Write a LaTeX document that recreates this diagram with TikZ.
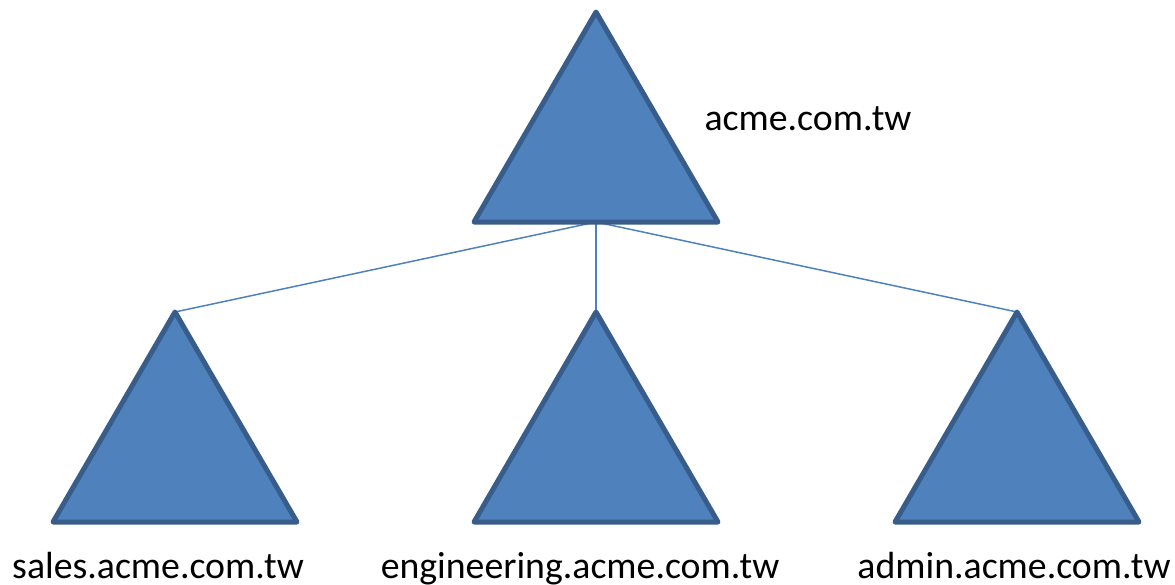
\documentclass[tikz,border=0pt]{standalone}
\usepackage{fontspec}
\setmainfont{Carlito}
\definecolor{triFill}{HTML}{4F81BD}
\definecolor{triLine}{HTML}{385D8A}
\begin{document}
\begin{tikzpicture}[x=1pt,y=-1pt,
  tri/.style={fill=triFill,draw=triLine,line width=5pt,line join=round},
  link/.style={draw=triFill,line width=1.5pt},
  lbl/.style={font=\fontsize{37.8}{38}\selectfont,inner sep=0pt,anchor=base}]
\useasboundingbox (0,0) rectangle (1175,584);
% coordinates
\coordinate (topA) at (596,12);
\coordinate (topB) at (596,222);
\coordinate (sA) at (175,312);
\coordinate (eA) at (596,312);
\coordinate (aA) at (1017,312);
% connectors
\draw[link] (topB) -- (sA);
\draw[link] (topB) -- (eA);
\draw[link] (topB) -- (aA);
% triangles
\draw[tri] (topA) -- (474,222) -- (718,222) -- cycle;
\draw[tri] (sA) -- (53,522) -- (297,522) -- cycle;
\draw[tri] (eA) -- (474,522) -- (718,522) -- cycle;
\draw[tri] (aA) -- (895,522) -- (1139,522) -- cycle;
% labels
\node[lbl] (lt) at (808,130) {acme.com.tw};
\node[lbl] (ls) at (158,578) {sales.acme.com.tw};
\node[lbl] (le) at (580,578) {engineering.acme.com.tw};
\node[lbl] (la) at (1014,578) {admin.acme.com.tw};
\end{tikzpicture}
\end{document}
